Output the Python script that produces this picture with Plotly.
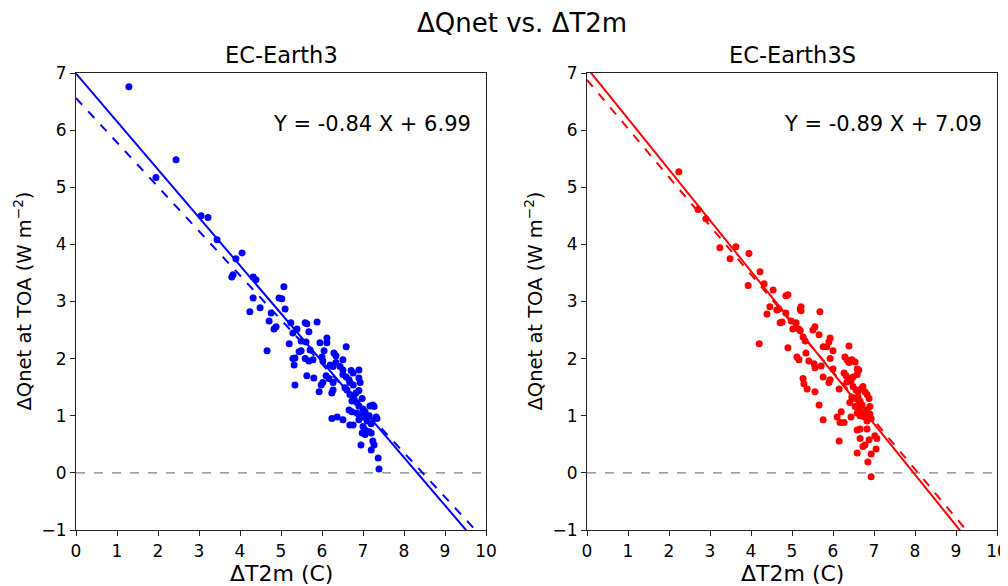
import plotly.graph_objects as go

# ---------------- data ----------------
x_ec3 = [1.29, 1.95, 2.44, 3.05, 3.22, 3.44, 3.90, 4.05, 3.83, 3.80, 4.32, 4.39, 4.32,
         5.07, 4.95, 5.02, 4.49, 4.24, 5.10, 4.76, 4.71, 4.88, 4.83, 5.24, 5.59, 5.63,
         5.88, 5.39, 5.29, 5.68, 5.20, 5.61, 6.12, 5.95, 4.66, 5.49, 5.44, 5.71, 6.05,
         5.29, 5.34, 5.59, 5.68, 5.78, 6.00, 6.02, 5.32, 5.63, 5.80, 6.10, 5.34, 6.02,
         5.98, 6.12, 6.59, 6.29, 6.34, 6.51, 6.34, 6.20, 6.27, 6.44, 6.51, 6.71, 6.76,
         6.90, 6.17, 6.51, 6.59, 6.66, 6.90, 6.27, 6.68, 6.76, 6.93, 6.56, 6.61, 6.27,
         6.24, 5.93, 6.90, 6.83, 6.68, 6.78, 6.73, 6.98, 6.85, 6.90, 7.17, 7.24, 7.27,
         6.66, 6.73, 7.00, 7.05, 6.85, 6.90, 7.00, 7.15, 7.32, 6.24, 6.37, 6.51, 6.90,
         7.10, 6.68, 6.76, 7.00, 7.20, 7.05, 7.15, 6.98, 7.05, 7.20, 7.24, 6.95, 7.20,
         7.37, 7.39, 7.27, 5.49, 7.34]
y_ec3 = [6.76, 5.17, 5.48, 4.50, 4.47, 4.08, 3.75, 3.85, 3.47, 3.43, 3.43, 3.38, 3.06,
         3.26, 3.06, 3.05, 2.89, 2.82, 2.87, 2.80, 2.66, 2.56, 2.52, 2.63, 2.63, 2.61,
         2.64, 2.52, 2.45, 2.47, 2.26, 2.29, 2.36, 2.28, 2.14, 2.14, 2.12, 2.15, 2.14,
         2.00, 2.01, 2.00, 1.96, 1.98, 2.03, 1.96, 1.89, 1.70, 1.66, 1.70, 1.54, 1.58,
         1.54, 2.28, 2.21, 2.10, 2.05, 1.98, 1.93, 1.89, 1.86, 1.86, 1.80, 1.79, 1.75,
         1.80, 1.65, 1.72, 1.68, 1.63, 1.66, 1.58, 1.58, 1.54, 1.58, 1.49, 1.45, 1.45,
         1.40, 1.42, 1.44, 1.40, 1.37, 1.30, 1.26, 1.30, 1.23, 1.17, 1.17, 1.19, 1.16,
         1.10, 1.07, 1.12, 1.07, 1.05, 1.02, 0.98, 1.00, 0.98, 0.95, 0.98, 0.93, 0.93,
         0.91, 0.84, 0.84, 0.81, 0.86, 0.75, 0.72, 0.70, 0.67, 0.70, 0.56, 0.49, 0.40,
         0.26, 0.07, 0.49, 2.31, 0.95]

x_ec3s = [2.24, 2.71, 2.90, 3.24, 3.63, 3.49, 3.95, 4.22, 3.93, 4.32, 4.54, 4.85, 4.90,
          4.46, 4.39, 4.63, 4.68, 4.85, 4.76, 4.71, 4.20, 4.90, 5.22, 5.68, 5.02, 5.20,
          5.56, 5.51, 5.66, 5.27, 5.32, 5.93, 5.90, 5.76, 5.85, 6.00, 6.39, 5.34, 5.12,
          5.17, 5.41, 5.54, 5.56, 5.93, 5.71, 6.29, 6.34, 6.39, 6.46, 6.54, 6.00, 6.59,
          6.63, 5.76, 5.93, 5.90, 6.27, 6.32, 6.39, 6.44, 6.34, 6.49, 6.59, 5.27, 5.29,
          5.37, 5.56, 6.15, 6.49, 6.56, 6.61, 6.68, 6.73, 6.78, 6.83, 6.46, 6.54, 6.61,
          6.66, 6.41, 6.88, 5.66, 6.54, 6.63, 6.71, 6.90, 6.20, 6.10, 6.17, 6.27, 6.44,
          6.59, 6.66, 6.73, 6.76, 6.83, 6.90, 6.83, 6.93, 5.76, 6.59, 6.66, 6.83, 6.15,
          6.66, 6.88, 7.02, 7.07, 6.73, 6.78, 7.05, 6.59, 6.93, 6.85, 6.93, 5.20, 5.22,
          4.98, 5.10, 5.17]
y_ec3s = [5.27, 4.61, 4.45, 3.94, 3.96, 3.75, 3.84, 3.52, 3.28, 3.31, 3.20, 3.10, 3.12,
          2.91, 2.78, 2.85, 2.87, 2.80, 2.64, 2.63, 2.26, 2.19, 2.84, 2.82, 2.52, 2.49,
          2.56, 2.50, 2.42, 2.38, 2.31, 2.36, 2.29, 2.21, 2.21, 2.14, 2.22, 2.10, 2.03,
          1.98, 1.96, 1.91, 1.84, 2.00, 1.87, 2.03, 1.98, 1.93, 1.98, 1.94, 1.82, 1.82,
          1.80, 1.68, 1.63, 1.58, 1.75, 1.70, 1.65, 1.61, 1.59, 1.68, 1.72, 1.65, 1.56,
          1.47, 1.42, 1.47, 1.51, 1.45, 1.42, 1.47, 1.51, 1.42, 1.37, 1.33, 1.30, 1.33,
          1.26, 1.23, 1.30, 1.19, 1.16, 1.14, 1.19, 1.16, 1.07, 0.98, 0.88, 0.88, 0.98,
          1.05, 1.00, 1.07, 0.98, 1.10, 1.03, 0.91, 0.95, 0.93, 0.75, 0.77, 0.77, 0.56,
          0.60, 0.58, 0.65, 0.60, 0.46, 0.49, 0.42, 0.35, 0.33, 0.19, -0.07, 2.87, 2.91,
          2.66, 2.63, 2.52]

# fitted lines: [slope, intercept]
fit_solid_ec3 = [-0.84, 6.99]
fit_dash_ec3 = [-0.776, 6.56]
fit_solid_ec3s = [-0.89, 7.09]
fit_dash_ec3s = [-0.852, 6.88]

suptitle = "ΔQnet vs. ΔT2m"
panel_titles = ["EC-Earth3", "EC-Earth3S"]
equations = ["Y = -0.84 X + 6.99", "Y = -0.89 X + 7.09"]
x_label = "ΔT2m (C)"
y_label = "ΔQnet at TOA (W m<sup>−2</sup>)"
x_ticks = list(range(0, 11))
y_ticks = list(range(-1, 8))
x_range = [0, 10]
y_range = [-1, 7]

# ---------------- figure ----------------
FONT = "DejaVu Sans"
fig = go.Figure()

panels = [
    (x_ec3, y_ec3, fit_solid_ec3, fit_dash_ec3, "#0000ff", "x", "y"),
    (x_ec3s, y_ec3s, fit_solid_ec3s, fit_dash_ec3s, "#ff0000", "x2", "y2"),
]

for xs, ys, fs, fd, col, xa, ya in panels:
    fig.add_trace(go.Scatter(x=x_range, y=[0, 0], mode="lines",
                             line=dict(color="#808080", width=1.2, dash="dash"),
                             xaxis=xa, yaxis=ya, showlegend=False, hoverinfo="skip"))
    fig.add_trace(go.Scatter(x=xs, y=ys, mode="markers",
                             marker=dict(color=col, size=7, line=dict(width=0)),
                             xaxis=xa, yaxis=ya, showlegend=False))
    fig.add_trace(go.Scatter(x=x_range, y=[fs[1] + fs[0] * v for v in x_range], mode="lines",
                             line=dict(color=col, width=2),
                             xaxis=xa, yaxis=ya, showlegend=False))
    fig.add_trace(go.Scatter(x=x_range, y=[fd[1] + fd[0] * v for v in x_range], mode="lines",
                             line=dict(color=col, width=2, dash="dash"),
                             xaxis=xa, yaxis=ya, showlegend=False))

# the page body adds an 8px margin, so the figure is 8px smaller and everything shifted
OFF = 8
W, H = 1008 - OFF, 586 - OFF


def px(v):
    return (v - OFF) / W


def py(v):
    return 1 - (v - OFF) / H


dom_x1 = [px(76), px(486)]
dom_x2 = [px(587), px(997)]
dom_y = [py(530), py(73)]

axis_common = dict(showgrid=False, zeroline=False, showline=True, linecolor="#222222",
                   linewidth=1.2, mirror=True, ticks="outside", ticklen=5, tickwidth=1.2,
                   tickcolor="#222222", automargin=False,
                   tickfont=dict(family=FONT, size=17, color="black"))

fig.update_layout(
    width=W, height=H,
    margin=dict(l=0, r=0, t=0, b=0),
    paper_bgcolor="white", plot_bgcolor="white",
    xaxis=dict(domain=dom_x1, range=x_range, tickvals=x_ticks, anchor="y", **axis_common),
    yaxis=dict(domain=dom_y, range=y_range, tickvals=y_ticks, anchor="x", **axis_common),
    xaxis2=dict(domain=dom_x2, range=x_range, tickvals=x_ticks, anchor="y2", **axis_common),
    yaxis2=dict(domain=dom_y, range=y_range, tickvals=y_ticks, anchor="x2", **axis_common),
)

ann = [
    dict(text=suptitle, x=px(522), y=py(23), size=26, angle=0),
    dict(text=panel_titles[0], x=(dom_x1[0] + dom_x1[1]) / 2, y=py(55), size=22.5, angle=0),
    dict(text=panel_titles[1], x=(dom_x2[0] + dom_x2[1]) / 2, y=py(55), size=22.5, angle=0),
    dict(text=x_label, x=(dom_x1[0] + dom_x1[1]) / 2, y=py(573), size=22, angle=0),
    dict(text=x_label, x=(dom_x2[0] + dom_x2[1]) / 2, y=py(573), size=22, angle=0),
    dict(text=y_label, x=px(22), y=(dom_y[0] + dom_y[1]) / 2, size=19.5, angle=-90),
    dict(text=y_label, x=px(533), y=(dom_y[0] + dom_y[1]) / 2, size=19.5, angle=-90),
]
for a in ann:
    fig.add_annotation(text=a["text"], x=a["x"], y=a["y"], xref="paper", yref="paper",
                       showarrow=False, textangle=a["angle"], xanchor="center", yanchor="middle",
                       font=dict(family=FONT, size=a["size"], color="black"))

for eq, xr, yr in [(equations[0], "x domain", "y domain"), (equations[1], "x2 domain", "y2 domain")]:
    fig.add_annotation(text=eq, x=0.968, y=0.888, xref=xr, yref=yr, showarrow=False,
                       xanchor="right", yanchor="middle",
                       font=dict(family=FONT, size=21, color="black"))

fig.write_html("out.html")
